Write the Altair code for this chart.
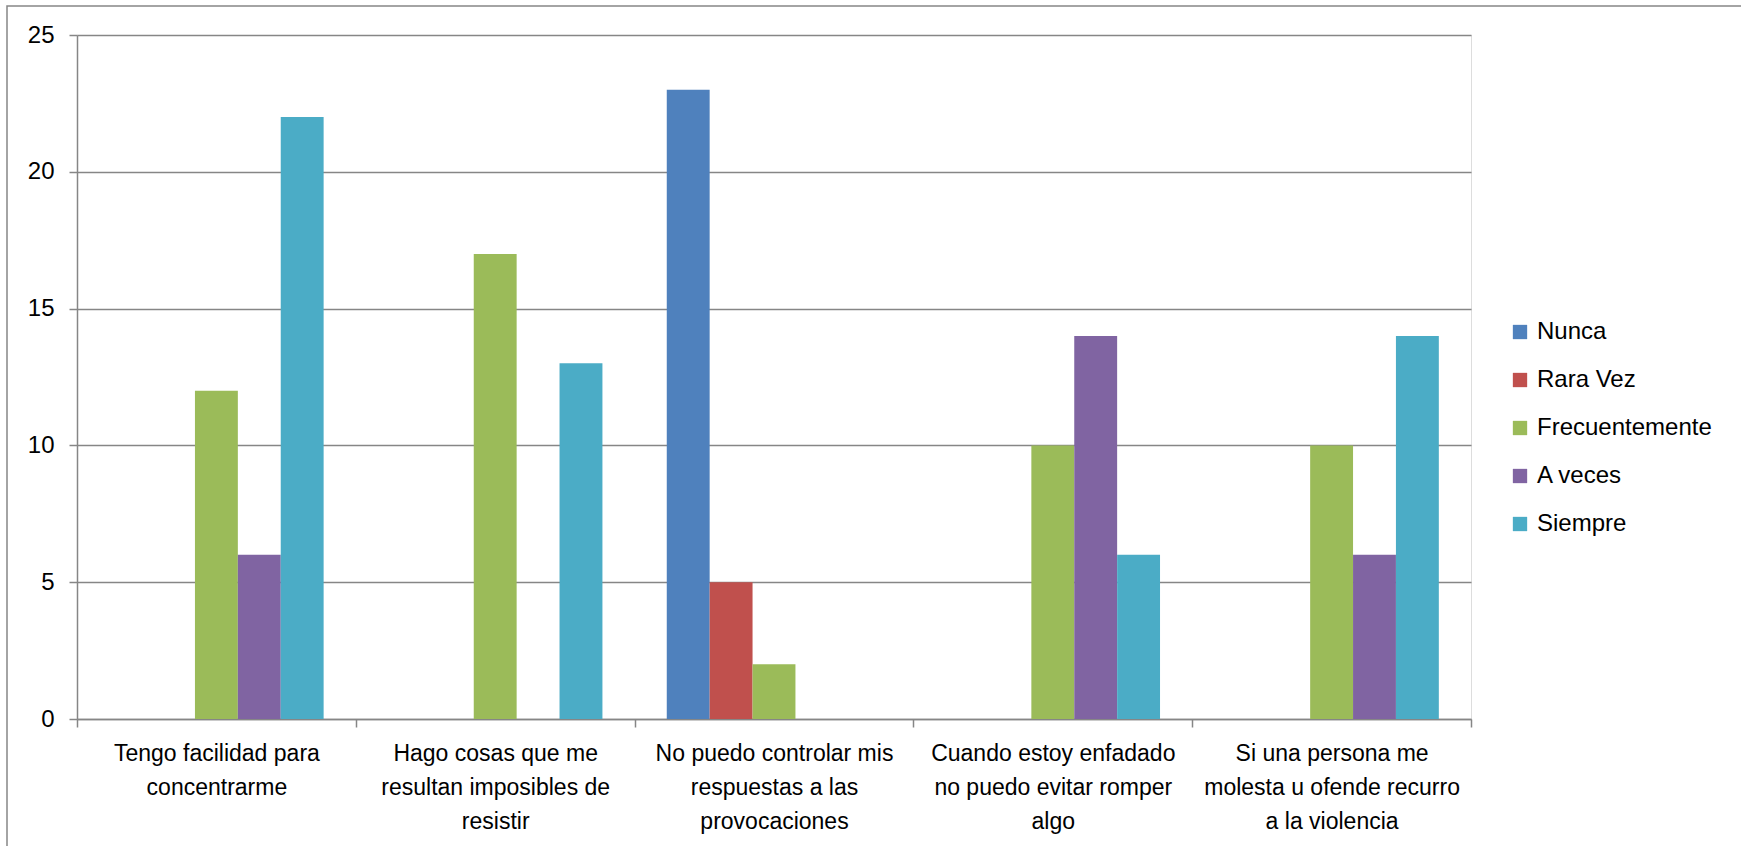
import altair as alt
import pandas as pd

categories = [
    "Tengo facilidad para\nconcentrarme",
    "Hago cosas que me\nresultan imposibles de\nresistir",
    "No puedo controlar mis\nrespuestas a las\nprovocaciones",
    "Cuando estoy enfadado\nno puedo evitar romper\nalgo",
    "Si una persona me\nmolesta u ofende recurro\na la violencia",
]
series = ["Nunca", "Rara Vez", "Frecuentemente", "A veces", "Siempre"]
colors = ["#4F81BD", "#C0504D", "#9BBB59", "#8064A2", "#4BACC6"]

nunca = [0, 0, 23, 0, 0]
rara_vez = [0, 0, 5, 0, 0]
frecuentemente = [12, 17, 2, 10, 10]
a_veces = [6, 0, 0, 14, 6]
siempre = [22, 13, 0, 6, 14]

values = [nunca, rara_vez, frecuentemente, a_veces, siempre]
rows = []
for s, vals in zip(series, values):
    for c, v in zip(categories, vals):
        if v > 0:
            rows.append({"categoria": c, "serie": s, "valor": v})
df = pd.DataFrame(rows)

FONT = "Liberation Sans"
GRAY = "#868686"

bars = alt.Chart(df).mark_bar().encode(
    x=alt.X(
        "categoria:N",
        sort=categories,
        scale=alt.Scale(domain=categories, paddingInner=0, paddingOuter=0),
        axis=alt.Axis(
            title=None,
            labelAngle=0,
            labelExpr="split(datum.label, '\\n')",
            labelFont=FONT,
            labelFontSize=23,
            labelColor="black",
            labelLineHeight=34,
            labelPadding=15,
            labelLimit=400,
            tickBand="extent",
            tickSize=8,
            tickColor=GRAY,
            tickWidth=1.5,
            domainColor=GRAY,
            domainWidth=1.5,
            grid=False,
        ),
    ),
    xOffset=alt.XOffset(
        "serie:N",
        sort=series,
        scale=alt.Scale(domain=series, paddingInner=0, paddingOuter=0.75),
    ),
    y=alt.Y(
        "valor:Q",
        scale=alt.Scale(domain=[0, 25], nice=False),
        axis=alt.Axis(
            title=None,
            values=[0, 5, 10, 15, 20, 25],
            labelFont=FONT,
            labelFontSize=24,
            labelColor="black",
            labelPadding=15,
            tickSize=8,
            tickColor=GRAY,
            tickWidth=1.5,
            domainColor=GRAY,
            domainWidth=1.5,
            grid=True,
            gridColor=GRAY,
            gridWidth=1.5,
        ),
    ),
    color=alt.Color(
        "serie:N",
        sort=series,
        scale=alt.Scale(domain=series, range=colors),
        legend=alt.Legend(
            title=None,
            orient="none",
            legendX=1431,
            legendY=285,
            symbolType="square",
            symbolSize=205,
            symbolStrokeWidth=0,
            labelFont=FONT,
            labelFontSize=24,
            labelColor="black",
            labelOffset=5,
            labelLimit=300,
            rowPadding=24,
        ),
    ),
)

frame = alt.Chart(pd.DataFrame({"a": [0]})).mark_rect(
    fill=None, stroke=GRAY, strokeWidth=1.5
).encode(
    x=alt.value(-70),
    y=alt.value(-29),
    x2=alt.value(1800),
    y2=alt.value(900),
)

chart = alt.layer(frame, bars).properties(
    width=1394,
    height=684,
    autosize=alt.AutoSizeParams(type="none"),
    padding={"left": 77, "top": 35, "right": 270, "bottom": 127},
).configure_view(stroke=None).configure(background="white")

chart.save("out.html", embed_options={"renderer": "svg", "actions": False})
